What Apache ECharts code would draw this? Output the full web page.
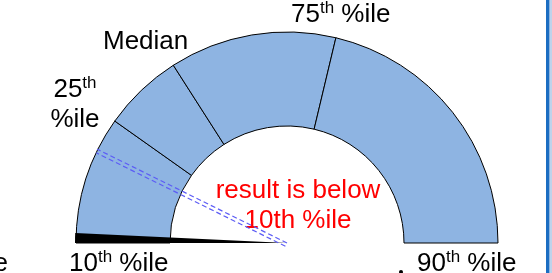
<!DOCTYPE html>
<html>
<head>
<meta charset="utf-8">
<style>
  html, body { margin: 0; padding: 0; background: #fff; }
  #chart { width: 552px; height: 273px; }
</style>
<script src="https://cdn.jsdelivr.net/npm/echarts@6/dist/echarts.min.js"></script>
</head>
<body>
<div id="chart"></div>
<script>
// positions along the half ring, in degrees from the left end (10th %ile)
const bandNames = ['10th-25th', '25th-Median', 'Median-75th', '75th-90th']
const bandEdges = [0, 35.3, 57.4, 103.4, 180]
// black marker at the 10th percentile
const floorMarker = 2.7
// the dashed double needle: [radius, angle] pairs
const needleA = [[0, 26.3], [212, 26.3]]
const needleB = [[3.6, 296.3], [211, 25.3]]

const font = "'Liberation Sans', Arial, sans-serif"
const cx = 287, cy = 243

const bandValues = bandEdges.slice(1).map((e, i) => e - bandEdges[i])

const rich = {
    n: { fontSize: 26, lineHeight: 30, fontFamily: font, fill: '#000' },
    s: { fontSize: 17, lineHeight: 12, verticalAlign: 'top', fontFamily: font, fill: '#000' },
    r: { fontSize: 26, lineHeight: 30, fontFamily: font, fill: '#ff0000' }
}

function label(text, x, y, align) {
    return {
        type: 'text', x: x, y: y + 2, silent: true,
        style: { text: text, rich: rich, align: align || 'left', verticalAlign: 'top', font: '26px ' + font }
    }
}

const chart = echarts.init(document.getElementById('chart'))
chart.setOption({
    animation: false,
    polar: { center: [cx, cy], radius: 212 },
    angleAxis: {
        type: 'value', min: 0, max: 360, startAngle: 180, clockwise: true,
        show: false, axisLine: { show: false }, splitLine: { show: false }, axisLabel: { show: false }
    },
    radiusAxis: {
        type: 'value', min: 0, max: 212,
        show: false, axisLine: { show: false }, splitLine: { show: false }, axisLabel: { show: false }
    },
    series: [
        {
            type: 'pie',
            silent: true,
            center: [cx, cy],
            radius: [117, 211],
            startAngle: 180,
            clockwise: true,
            label: { show: false },
            labelLine: { show: false },
            itemStyle: { color: '#8eb4e2', borderColor: '#000', borderWidth: 1 },
            data: bandValues.map((v, i) => ({ name: bandNames[i], value: v }))
                .concat([{ name: 'rest', value: 180, itemStyle: { color: 'transparent', borderWidth: 0 } }])
        },
        {
            type: 'pie',
            silent: true,
            z: 3,
            center: [cx, cy],
            radius: [0, 212],
            startAngle: 180,
            clockwise: true,
            label: { show: false },
            labelLine: { show: false },
            data: [
                { name: '10th', value: floorMarker, itemStyle: { color: '#000' } },
                { name: 'rest', value: 360 - floorMarker, itemStyle: { color: 'transparent' } }
            ]
        },
        {
            type: 'line', coordinateSystem: 'polar', silent: true, z: 4,
            showSymbol: false,
            lineStyle: { color: '#5c5cf5', width: 1.2, type: [5, 3] },
            data: needleA
        },
        {
            type: 'line', coordinateSystem: 'polar', silent: true, z: 4,
            showSymbol: false,
            lineStyle: { color: '#5c5cf5', width: 1.2, type: [5, 3] },
            data: needleB
        }
    ],
    graphic: [
        label('{n|25}{s|th}\n{n|%ile}', 75, 73, 'center'),
        label('{n|Median}', 103, 25),
        label('{n|75}{s|th}{n| %ile}', 291, -2),
        label('{n|10}{s|th}{n| %ile}', 69, 247),
        label('{n|90}{s|th}{n| %ile}', 417, 247),
        label('{n|%ile}', 8, 247, 'right'),
        label('{r|result is below}\n{r|10th %ile}', 298, 174, 'center'),
        { type: 'circle', silent: true, shape: { cx: 401, cy: 272, r: 2 }, style: { fill: '#000' } },
        { type: 'rect', silent: true, shape: { x: 546, y: 0, width: 3.5, height: 273 }, style: { fill: '#1c6dc2' } },
        { type: 'rect', silent: true, shape: { x: 550.5, y: 0, width: 1, height: 273 }, style: { fill: '#7fa8d8' } }
    ]
})
</script>
</body>
</html>
